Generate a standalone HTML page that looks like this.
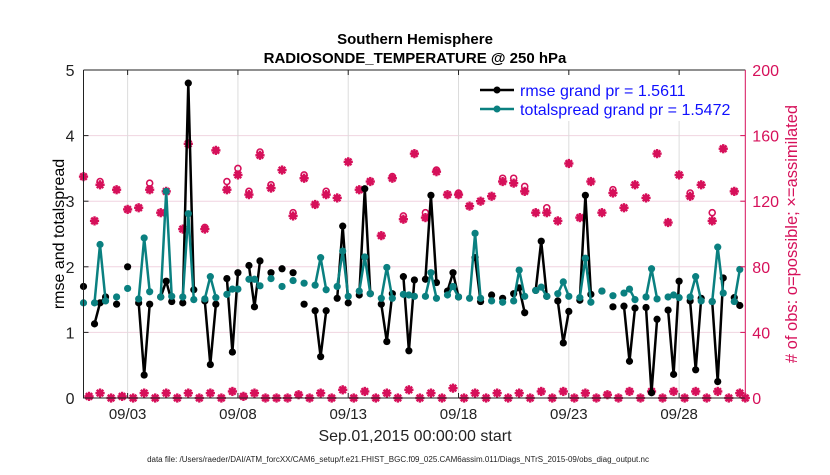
<!DOCTYPE html>
<html><head><meta charset="utf-8"><style>
body{margin:0;background:#fff;}
svg text{font-family:"Liberation Sans",sans-serif;}
</style></head><body>
<svg id="chart" width="830" height="470" xmlns="http://www.w3.org/2000/svg">
<rect width="830" height="470" fill="#fff"/>
<text x="415" y="44" text-anchor="middle" font-size="15" font-weight="bold">Southern Hemisphere</text>
<text x="415" y="63" text-anchor="middle" font-size="15" font-weight="bold">RADIOSONDE_TEMPERATURE @ 250 hPa</text>
<g id="grid"></g>
<g id="marks"></g>
<g id="axes"></g>
<text transform="translate(64,234) rotate(-90)" text-anchor="middle" font-size="16">rmse and totalspread</text>
<text transform="translate(797,234) rotate(-90)" text-anchor="middle" font-size="16.5" fill="#d6105a"># of obs: o=possible; ×=assimilated</text>
<text x="415" y="441" text-anchor="middle" font-size="16" fill="#222">Sep.01,2015 00:00:00 start</text>
<text x="398" y="462" text-anchor="middle" font-size="8" fill="#222">data file: /Users/raeder/DAI/ATM_forcXX/CAM6_setup/f.e21.FHIST_BGC.f09_025.CAM6assim.011/Diags_NTrS_2015-09/obs_diag_output.nc</text>
<g>
<rect x="476" y="75" width="266" height="46" fill="#fff"/>
<line x1="480" y1="90" x2="514" y2="90" stroke="#000" stroke-width="2.5"/><circle cx="497" cy="90" r="3.5" fill="#000"/>
<text x="520" y="96" font-size="16" fill="#1010ff">rmse grand pr = 1.5611</text>
<line x1="480" y1="109" x2="514" y2="109" stroke="#0a8080" stroke-width="2.5"/><circle cx="497" cy="109" r="3.5" fill="#0a8080"/>
<text x="520" y="115" font-size="16" fill="#1010ff">totalspread grand pr = 1.5472</text>
</g>
</svg>
<script>
// 6-hourly slots from Sep 1 00Z (slot 0) to Oct 1 00Z (slot 120)
const slots = 121;
const rmseEntries = [[0,1.70],[2,1.13],[3,1.45],[4,1.54],[6,1.43],[8,2.00],[10,1.45],[11,0.35],[12,1.43],[14,1.54],[15,1.78],[16,1.47],[18,1.45],[19,4.80],[20,1.65],[22,1.48],[23,0.51],[24,1.43],[26,1.82],[27,0.70],[28,1.91],[30,2.02],[31,1.39],[32,2.09],[34,1.91],[36,1.97],[38,1.91],[40,1.43],[42,1.33],[43,0.63],[44,1.33],[46,1.52],[47,2.62],[48,1.45],[50,1.57],[51,3.19],[52,1.59],[54,1.43],[55,0.86],[56,1.59],[58,1.85],[59,0.72],[60,1.80],[62,1.81],[63,3.09],[64,1.76],[66,1.63],[67,1.91],[68,1.54],[71,2.14],[72,1.47],[74,1.57],[76,1.52],[78,1.59],[79,1.68],[80,1.30],[82,1.64],[83,2.39],[84,1.55],[86,1.48],[87,0.84],[88,1.32],[90,1.49],[91,3.09],[92,1.58],[94,1.63],[96,1.39],[98,1.40],[99,0.56],[100,1.37],[102,1.38],[103,0.08],[104,1.20],[106,1.34],[107,0.36],[108,1.78],[110,1.48],[111,0.43],[112,1.52],[114,1.47],[115,0.25],[116,1.83],[118,1.53],[119,1.41]];
const spreadEntries = [[0,1.45],[2,1.45],[3,2.34],[4,1.48],[6,1.54],[8,1.67],[10,1.51],[11,2.44],[12,1.62],[14,1.54],[15,3.15],[16,1.55],[18,1.54],[19,2.81],[20,1.50],[22,1.51],[23,1.85],[24,1.53],[26,1.58],[27,1.66],[28,1.66],[30,1.81],[31,1.81],[32,1.71],[34,1.82],[36,1.70],[38,1.79],[40,1.75],[42,1.72],[43,2.14],[44,1.65],[46,1.70],[47,2.24],[48,1.55],[50,1.63],[51,2.15],[52,1.59],[54,1.52],[55,1.99],[56,1.52],[58,1.58],[59,1.57],[60,1.55],[62,1.55],[63,1.91],[64,1.52],[66,1.57],[67,1.70],[68,1.54],[70,1.52],[71,2.51],[72,1.52],[74,1.48],[76,1.46],[78,1.48],[79,1.95],[80,1.55],[82,1.64],[83,1.69],[84,1.55],[86,1.59],[87,1.77],[88,1.55],[90,1.53],[91,2.13],[92,1.46],[94,1.63],[96,1.56],[98,1.60],[99,1.66],[100,1.50],[102,1.54],[103,1.97],[104,1.51],[106,1.54],[107,1.57],[108,1.53],[110,1.54],[111,1.85],[112,1.48],[114,1.47],[115,2.30],[116,1.60],[118,1.47],[119,1.96]];
const assimEntries = [[0,135],[2,108],[3,130],[6,127],[8,115],[10,116],[12,127],[14,113],[15,126],[18,103],[19,155],[22,103],[24,151],[26,127],[28,136],[30,124],[32,148],[34,128],[36,139],[38,111],[40,134],[42,118],[44,124],[46,122],[48,144],[50,127],[52,132],[54,99],[56,134],[58,109],[60,149],[62,110],[64,138],[66,124],[68,124],[70,117],[72,120],[74,123],[76,132],[78,131],[80,126],[82,113],[84,113],[86,108],[88,143],[90,110],[92,132],[94,113],[96,125],[98,116],[100,130],[102,122],[104,149],[106,107],[108,136],[110,123],[112,130],[114,108],[116,152],[118,126]];
const possibleEntries = [[3,132],[12,131],[22,104],[26,132],[28,140],[30,126],[32,150],[34,130],[38,113],[40,136],[44,126],[56,135],[58,111],[62,113],[64,139],[68,125],[76,134],[78,134],[80,129],[84,116],[96,127],[110,125],[114,113]];
const lowEntries = [[1,1],[3,3],[5,0],[7,1],[9,0],[11,3],[13,0],[15,3],[17,0],[19,3],[21,0],[23,3],[25,0],[27,4],[29,1],[31,3],[33,0],[35,0],[37,0],[39,2],[41,0],[43,3],[45,0],[47,5],[49,0],[51,4],[53,0],[55,3],[57,0],[59,5],[61,0],[63,3],[65,0],[67,6],[69,0],[71,3],[73,0],[75,3],[77,0],[79,3],[81,0],[83,4],[85,0],[87,4],[89,0],[91,3],[93,0],[95,2],[97,0],[99,4],[101,0],[103,4],[105,0],[107,4],[109,0],[111,4],[113,0],[115,4],[117,0],[119,3],[120,0]];
const leftTicks = [0,1,2,3,4,5];
const rightTicks = [0,40,80,120,160,200];
const dateTicks = ["09/03","09/08","09/13","09/18","09/23","09/28"];
const dateTickSlots = [8,28,48,68,88,108];

const X0=83.5, X1=745.3, Y0=398, Y1=70;
const xs = k => X0 + (X1-X0)*k/(slots-1);
const yL = v => Y0 - (Y0-Y1)*v/5;
const yR = v => Y0 - (Y0-Y1)*v/200;
const NS="http://www.w3.org/2000/svg";
function mk(tag, attrs, parent){const e=document.createElementNS(NS,tag);for(const k in attrs)e.setAttribute(k,attrs[k]);parent.appendChild(e);return e;}
const grid=document.getElementById('grid'), marks=document.getElementById('marks'), axes=document.getElementById('axes');
const PINK="#d6105a", TEAL="#0a8080";

leftTicks.forEach(v=>{
  if(v>0&&v<5){const g=mk('line',{x1:X0,x2:X1,y1:yL(v),y2:yL(v),stroke:"#f0d4e0","stroke-width":1},grid);
  
  }
  const t=mk('text',{x:X0-9,y:yL(v)+6,"text-anchor":"end","font-size":16,fill:"#222"},axes);t.textContent=v;
  
  
  mk('line',{x1:X0,x2:X0+5,y1:yL(v),y2:yL(v),stroke:"#222"},axes);
});
rightTicks.forEach(v=>{
  const t=mk('text',{x:X1+7,y:yR(v)+6,"font-size":16,fill:PINK},axes);t.textContent=v;
  
  
  mk('line',{x1:X1-5,x2:X1,y1:yR(v),y2:yR(v),stroke:PINK},axes);
});
dateTicks.forEach((d,i)=>{
  const x=xs(dateTickSlots[i]);
  const g=mk('line',{x1:x,x2:x,y1:Y1,y2:Y0,stroke:"#dcdcdc"},grid);
  
  
  mk('line',{x1:x,x2:x,y1:Y0,y2:Y0-5,stroke:"#222"},axes);
  mk('line',{x1:x,x2:x,y1:Y1,y2:Y1+5,stroke:"#222"},axes);
  const t=mk('text',{x:x,y:419,"text-anchor":"middle","font-size":15,fill:"#222"},axes);t.textContent=d;
  
  
});
const frame=mk('path',{d:`M${X0},${Y1}V${Y0}H${X1}M${X0},${Y1}H${X1}`,stroke:"#222",fill:"none","stroke-width":1},axes);


const rax=mk('line',{x1:X1,x2:X1,y1:Y1,y2:Y0,stroke:PINK,"stroke-width":1},axes);



function star(x,y,name){
  const g=mk('g',{},marks);
  
  
  mk('circle',{cx:x,cy:y,r:3.3,fill:PINK},g);
  for(let a=0;a<4;a++){const an=a*Math.PI/4,dx=4.6*Math.cos(an),dy=4.6*Math.sin(an);
    mk('line',{x1:x-dx,y1:y-dy,x2:x+dx,y2:y+dy,stroke:PINK,"stroke-width":2.4},g);}
}
possibleEntries.forEach(([k,v])=>{
  const c=mk('circle',{cx:xs(k),cy:yR(v),r:3,fill:"none",stroke:PINK,"stroke-width":1.6},marks);
  
  
});
assimEntries.forEach(([k,v])=>star(xs(k),yR(v),'assimilated-obs-marker'));
lowEntries.forEach(([k,v])=>star(xs(k),yR(v),'assimilated-obs-marker-low'));

function series(entries,color,name){
  let d="";let prev=-10;
  entries.forEach(([k,v])=>{d+=(k===prev+1?"L":"M")+xs(k).toFixed(1)+","+yL(v).toFixed(1);prev=k;});
  const p=mk('path',{d:d,stroke:color,"stroke-width":2.5,fill:"none","stroke-linejoin":"round"},marks);
  
  
  entries.forEach(([k,v])=>{
    const c=mk('circle',{cx:xs(k),cy:yL(v),r:3.6,fill:color},marks);
    
    
  });
}
series(rmseEntries,"#000",'rmse');
series(spreadEntries,TEAL,'totalspread');
</script>
</body></html>
